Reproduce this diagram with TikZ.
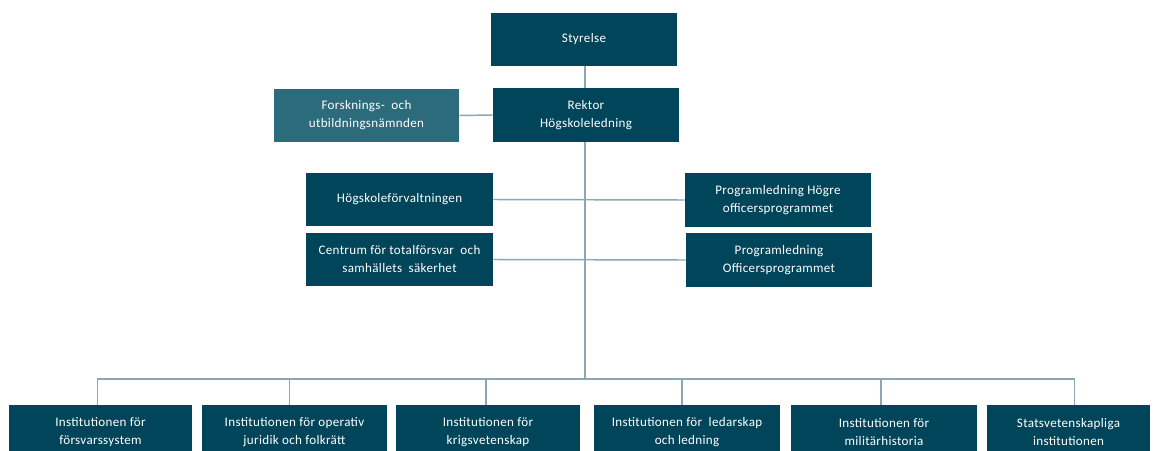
\documentclass[tikz,border=0pt]{standalone}
\usepackage{fontspec}
\setmainfont{Carlito}[LetterSpace=2.5]
\definecolor{boxdark}{HTML}{004559}
\definecolor{boxlight}{HTML}{2B6B7B}
\definecolor{linec}{HTML}{8AA7B3}
\tikzset{
  orgbox/.style={fill=boxdark, draw=none, text=white, align=center, inner sep=0pt,
    font=\fontsize{9.8}{13.5}\selectfont},
  conn/.style={draw=linec, line width=1.1pt},
}
\begin{document}
\begin{tikzpicture}[x=0.75pt,y=-0.75pt]
\useasboundingbox (0,0) rectangle (1157,450);
\clip (0,0) rectangle (1157,450);
\fill[white] (0,0) rectangle (1157,450);
% top
\node[orgbox, minimum width=139.5pt, minimum height=39.75pt] (sty) at (584,39.5) {Styrelse};
\node[orgbox, minimum width=139.5pt, minimum height=40.5pt] (rek) at (586,115) {Rektor\\Högskoleledning};
\node[orgbox, fill=boxlight, minimum width=138.75pt, minimum height=39.75pt] (fou) at (366.5,115.5) {Forsknings-\ \ och\\utbildningsnämnden};
% middle
\node[orgbox, minimum width=140.25pt, minimum height=39.75pt] (hfv) at (399.5,199.5) {Högskoleförvaltningen};
\node[orgbox, minimum width=140.25pt, minimum height=39.75pt] (ctr) at (399.5,259.5) {Centrum för totalförsvar\ \ och\\samhällets\ \ säkerhet};
\node[orgbox, minimum width=139.5pt, minimum height=40.5pt] (ph) at (778,200) {Programledning Högre\\officersprogrammet};
\node[orgbox, minimum width=139.5pt, minimum height=40.5pt] (po) at (779,260) {Programledning\\Officersprogrammet};
% bottom
\node[orgbox, minimum width=137.25pt, minimum height=40.5pt] (b1) at (100.5,432) {Institutionen för\\försvarssystem};
\node[orgbox, minimum width=138.75pt, minimum height=40.5pt] (b2) at (294.5,432) {Institutionen för operativ\\juridik och folkrätt};
\node[orgbox, minimum width=138pt, minimum height=40.5pt] (b3) at (488,432) {Institutionen för\\krigsvetenskap};
\node[orgbox, minimum width=139.5pt, minimum height=40.5pt] (b4) at (687,432) {Institutionen för\ \ ledarskap\\och ledning};
\node[orgbox, minimum width=139.5pt, minimum height=40.5pt] (b5) at (884,432) {Institutionen för\\militärhistoria};
\node[orgbox, minimum width=122.25pt, minimum height=40.5pt] (b6) at (1068.5,432) {Statsvetenskapliga\\institutionen};
% connectors
\coordinate (bus) at (585,379);
\draw[conn] (sty.south -| bus) -- (rek.north -| bus);
\draw[conn] (rek.south -| bus) -- (bus);
\draw[conn] (fou.east) -- (rek.west);
\draw[conn] (hfv.east) -- (ph.west);
\draw[conn] (ctr.east) -- (po.west);
\draw[conn] ([xshift=-2.25pt]b1.north) |- ([xshift=4.5pt]b6.north |- bus) -- ([xshift=4.5pt]b6.north);
\draw[conn] ([xshift=-3.75pt]b2.north) -- ([xshift=-3.75pt]b2.north |- bus);
\draw[conn] ([xshift=-1.5pt]b3.north) -- ([xshift=-1.5pt]b3.north |- bus);
\draw[conn] ([xshift=-3.75pt]b4.north) -- ([xshift=-3.75pt]b4.north |- bus);
\draw[conn] ([xshift=-2.25pt]b5.north) -- ([xshift=-2.25pt]b5.north |- bus);
\end{tikzpicture}
\end{document}
